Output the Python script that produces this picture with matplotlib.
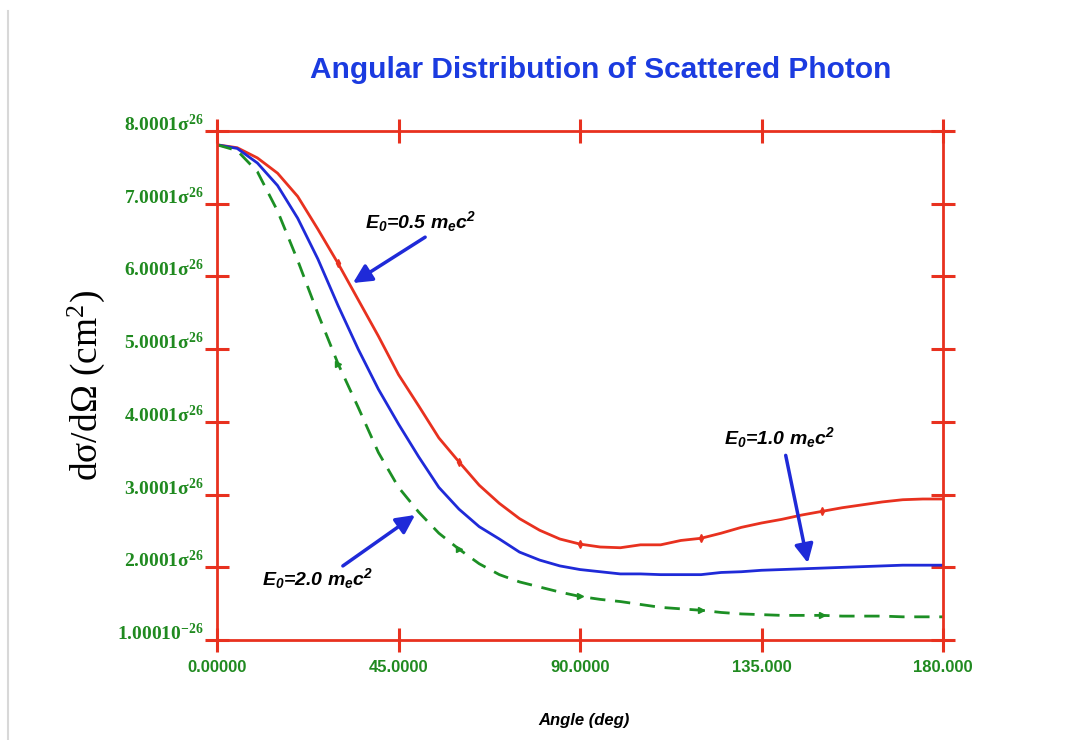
import numpy as np
import matplotlib
matplotlib.use("Agg")
import matplotlib.pyplot as plt
from matplotlib.ticker import FixedLocator
from matplotlib.lines import Line2D

plt.rcParams['mathtext.default'] = 'regular'

# data (cross section in units of 1e-26 cm^2)
angle = np.arange(0, 181, 5)
e05 = [7.81, 7.77, 7.63, 7.42, 7.10, 6.65, 6.18, 5.68, 5.18, 4.65, 4.22, 3.78, 3.45,
       3.13, 2.88, 2.67, 2.51, 2.39, 2.32, 2.28, 2.27, 2.31, 2.31, 2.37, 2.40, 2.47,
       2.55, 2.61, 2.66, 2.72, 2.77, 2.82, 2.86, 2.90, 2.93, 2.94, 2.94]
e10 = [7.81, 7.76, 7.56, 7.25, 6.80, 6.24, 5.60, 5.00, 4.45, 3.97, 3.52, 3.10, 2.80,
       2.56, 2.39, 2.21, 2.10, 2.02, 1.97, 1.94, 1.91, 1.91, 1.90, 1.90, 1.90, 1.93,
       1.94, 1.96, 1.97, 1.98, 1.99, 2.00, 2.01, 2.02, 2.03, 2.03, 2.03]
e20 = [7.81, 7.73, 7.44, 6.90, 6.22, 5.49, 4.80, 4.20, 3.58, 3.10, 2.76, 2.47, 2.25,
       2.05, 1.90, 1.80, 1.73, 1.66, 1.60, 1.56, 1.53, 1.49, 1.45, 1.43, 1.41, 1.38,
       1.36, 1.35, 1.34, 1.34, 1.34, 1.33, 1.33, 1.33, 1.32, 1.32, 1.32]
scale = 1e-26
xticks = [0, 45, 90, 135, 180]
xticklabels = ["0.00000", "45.0000", "90.0000", "135.000", "180.000"]
yticks = [1, 2, 3, 4, 5, 6, 7, 8]
yticklabels = ["1.00010$^{-26}$"] + ["%d.0001\u03c3$^{26}$" % v for v in yticks[1:]]

red = '#e8311f'
blue = '#1f2ad8'
green = '#1c8f24'
lblgreen = '#208a20'

fig = plt.figure(figsize=(10.75, 7.4), dpi=100)
ax = fig.add_axes([0.2019, 0.135, 0.6753, 0.688])

mk = [6, 12, 18, 24, 30]
ax.plot(angle, np.array(e05) * scale, color=red, lw=2, marker='d', ms=4, markevery=mk)
ax.plot(angle, np.array(e10) * scale, color=blue, lw=2)
ax.plot(angle, np.array(e20) * scale, color=green, lw=2, dashes=(5.5, 3.5),
        marker='>', ms=4, markevery=mk)

ax.set_xlim(0, 180)
ax.set_ylim(1 * scale, 8 * scale)

for s in ax.spines.values():
    s.set_color(red)
    s.set_linewidth(2)

ax.xaxis.set_major_locator(FixedLocator(xticks))
ax.set_xticklabels(xticklabels)
ax.yaxis.set_major_locator(FixedLocator([v * scale for v in yticks]))
ax.set_yticklabels(yticklabels)
ax.tick_params(direction='inout', length=17, width=2.2, color=red,
               top=True, right=True)
ax.tick_params(axis='x', pad=6)
ax.tick_params(axis='y', pad=1)
for t in ax.get_xticklabels():
    t.set_fontfamily('Liberation Sans')
    t.set_fontweight('bold')
    t.set_color(lblgreen)
    t.set_fontsize(12)
for t in ax.get_yticklabels():
    t.set_fontfamily('Liberation Serif')
    t.set_fontweight('bold')
    t.set_color(lblgreen)
    t.set_fontsize(14)
    t.set_verticalalignment('baseline')

ax.set_ylabel("d\u03c3/d\u03a9 (cm$^{2}$)", fontfamily='Liberation Serif', fontsize=27)
ax.yaxis.set_label_coords(-0.151, 0.5)
fig.text(0.543, 0.02, "Angle (deg)", fontfamily='Liberation Sans', fontweight='bold',
         fontstyle='italic', fontsize=12, ha='center')
fig.text(0.559, 0.905, "Angular Distribution of Scattered Photon", color='#1b3be0',
         fontfamily='Liberation Sans', fontweight='bold', fontsize=21.5, ha='center',
         va='center')

akw = dict(arrowstyle='-|>', color=blue, lw=2.5, mutation_scale=28, shrinkA=0, shrinkB=0)
tkw = dict(fontfamily='Liberation Sans', fontweight='bold', fontstyle='italic',
           fontsize=14, ha='center', va='center')
ax.text(50.6, 6.75 * scale, "E$_{0}$=0.5 m$_{e}$c$^{2}$", **tkw)
ax.annotate("", xy=(33.7, 5.91 * scale), xytext=(51.6, 6.54 * scale), arrowprops=akw)
ax.text(139.6, 3.79 * scale, "E$_{0}$=1.0 m$_{e}$c$^{2}$", **tkw)
ax.annotate("", xy=(146.5, 2.06 * scale), xytext=(141.0, 3.54 * scale), arrowprops=akw)
ax.text(25.0, 1.85 * scale, "E$_{0}$=2.0 m$_{e}$c$^{2}$", **tkw)
ax.annotate("", xy=(49.1, 2.72 * scale), xytext=(31.2, 2.02 * scale), arrowprops=akw)

fig.add_artist(Line2D([0.0075, 0.0075], [0, 0.985], transform=fig.transFigure,
                      color='#d8d8d8', lw=1.5))

fig.savefig("out.png", dpi=100)
